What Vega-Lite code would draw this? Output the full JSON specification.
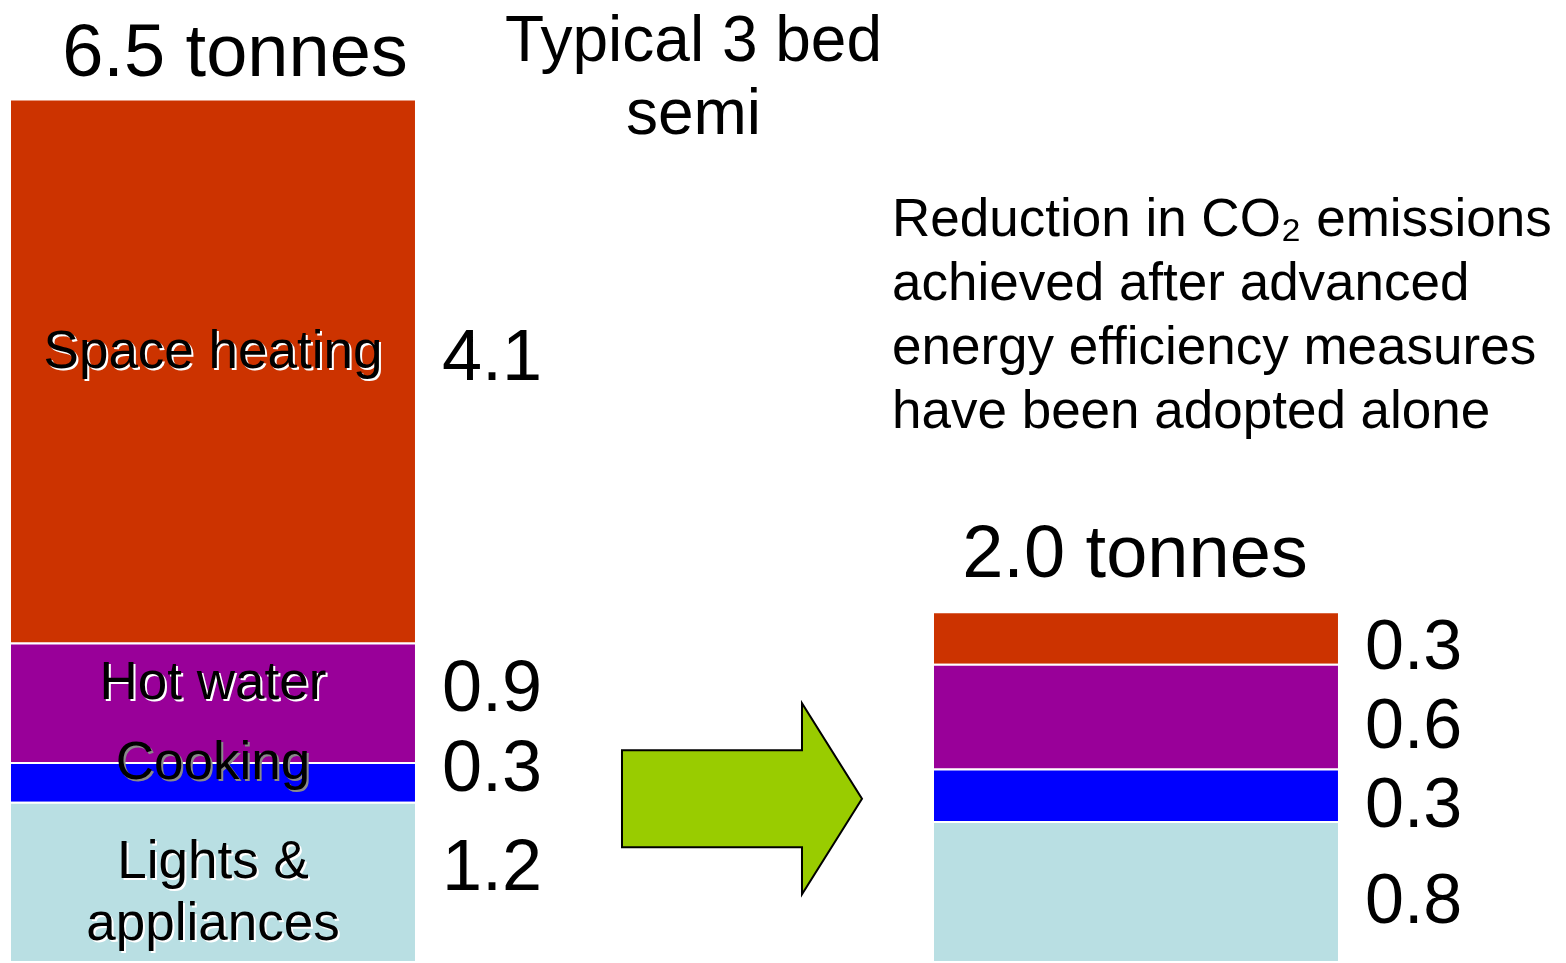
{
  "$schema": "https://vega.github.io/schema/vega-lite/v6.json",
  "width": 1566,
  "height": 963,
  "autosize": {"type": "fit", "contains": "padding"},
  "padding": 0,
  "background": "white",
  "config": {"view": {"stroke": null}, "font": "Liberation Sans"},
  "datasets": {
    "segments": [
      {"scenario": "Before", "use": "Space heating", "label": "Space heating", "tonnes": 4.1, "order": 4},
      {"scenario": "Before", "use": "Hot water", "label": "Hot water", "tonnes": 0.9, "order": 3},
      {"scenario": "Before", "use": "Cooking", "label": "Cooking", "tonnes": 0.3, "order": 2},
      {"scenario": "Before", "use": "Lights & appliances", "label": "Lights &\nappliances", "tonnes": 1.2, "order": 1},
      {"scenario": "After", "use": "Space heating", "label": "", "tonnes": 0.3, "order": 4},
      {"scenario": "After", "use": "Hot water", "label": "", "tonnes": 0.6, "order": 3},
      {"scenario": "After", "use": "Cooking", "label": "", "tonnes": 0.3, "order": 2},
      {"scenario": "After", "use": "Lights & appliances", "label": "", "tonnes": 0.8, "order": 1}
    ],
    "totals": [
      {"scenario": "Before", "tonnes": 6.5, "label": "6.5 tonnes"},
      {"scenario": "After", "tonnes": 2.0, "label": "2.0 tonnes"}
    ]
  },
  "resolve": {"scale": {"y": "independent"}},
  "layer": [
    {
      "data": {"name": "segments"},
      "transform": [{"filter": {"field": "scenario", "equal": "Before"}}],
      "mark": {"type": "bar", "stroke": "white", "strokeWidth": 2},
      "encoding": {
        "x": {"field": "scenario", "type": "nominal", "scale": {"domain": ["Before", "Arrow", "After"], "paddingInner": 0.1203, "paddingOuter": 0.2568, "align": 0.0422}, "axis": null},
        "y": {"field": "tonnes", "type": "quantitative", "stack": "zero", "scale": {"domain": [0, 7.25], "nice": false, "zero": true}, "axis": null},
        "color": {"field": "use", "type": "nominal", "scale": {"domain": ["Space heating", "Hot water", "Cooking", "Lights & appliances"], "range": ["#CC3300", "#990099", "#0000FF", "#B9DFE3"]}, "legend": null},
        "order": {"field": "order", "type": "quantitative"}
      }
    },
    {
      "data": {"name": "segments"},
      "transform": [{"filter": {"field": "scenario", "equal": "After"}}],
      "mark": {"type": "bar", "stroke": "white", "strokeWidth": 2},
      "encoding": {
        "x": {"field": "scenario", "type": "nominal", "scale": {"domain": ["Before", "Arrow", "After"], "paddingInner": 0.1203, "paddingOuter": 0.2568, "align": 0.0422}, "axis": null},
        "y": {"field": "tonnes", "type": "quantitative", "stack": "zero", "scale": {"domain": [0, 5.5], "nice": false, "zero": true}, "axis": null},
        "color": {"field": "use", "type": "nominal", "scale": {"domain": ["Space heating", "Hot water", "Cooking", "Lights & appliances"], "range": ["#CC3300", "#990099", "#0000FF", "#B9DFE3"]}, "legend": null},
        "order": {"field": "order", "type": "quantitative"}
      }
    },
    {
      "data": {"name": "segments"},
      "transform": [{"filter": {"field": "scenario", "equal": "Before"}}],
      "mark": {"type": "text", "align": "left", "baseline": "middle", "fontSize": 72, "dx": 26, "dy": -14, "color": "black"},
      "encoding": {
        "x": {"field": "scenario", "type": "nominal", "bandPosition": 1, "scale": {"domain": ["Before", "Arrow", "After"], "paddingInner": 0.1203, "paddingOuter": 0.2568, "align": 0.0422}, "axis": null},
        "y": {"field": "tonnes", "type": "quantitative", "stack": "zero", "bandPosition": 0.5, "scale": {"domain": [0, 7.25], "nice": false, "zero": true}, "axis": null},
        "detail": {"field": "use", "type": "nominal"},
        "order": {"field": "order", "type": "quantitative"},
        "text": {"field": "tonnes", "type": "quantitative", "format": ".1f"}
      }
    },
    {
      "data": {"name": "segments"},
      "transform": [{"filter": {"field": "scenario", "equal": "After"}}],
      "mark": {"type": "text", "align": "left", "baseline": "middle", "fontSize": 70, "dx": 26, "dy": 10, "color": "black"},
      "encoding": {
        "x": {"field": "scenario", "type": "nominal", "bandPosition": 1, "scale": {"domain": ["Before", "Arrow", "After"], "paddingInner": 0.1203, "paddingOuter": 0.2568, "align": 0.0422}, "axis": null},
        "y": {"field": "tonnes", "type": "quantitative", "stack": "zero", "bandPosition": 0.5, "scale": {"domain": [0, 5.5], "nice": false, "zero": true}, "axis": null},
        "detail": {"field": "use", "type": "nominal"},
        "order": {"field": "order", "type": "quantitative"},
        "text": {"field": "tonnes", "type": "quantitative", "format": ".1f"}
      }
    },
    {
      "data": {"name": "segments"},
      "transform": [{"filter": {"field": "scenario", "equal": "Before"}}],
      "mark": {"type": "text", "align": "center", "baseline": "middle", "fontSize": 53, "dx": 2, "dy": -18, "lineBreak": "\n", "lineHeight": 62},
      "encoding": {
        "x": {"field": "scenario", "type": "nominal", "scale": {"domain": ["Before", "Arrow", "After"], "paddingInner": 0.1203, "paddingOuter": 0.2568, "align": 0.0422}, "axis": null},
        "y": {"field": "tonnes", "type": "quantitative", "stack": "zero", "bandPosition": 0.5, "scale": {"domain": [0, 7.25], "nice": false, "zero": true}, "axis": null},
        "detail": {"field": "use", "type": "nominal"},
        "order": {"field": "order", "type": "quantitative"},
        "color": {"condition": {"test": "datum.use === 'Cooking'", "value": "#8a8a8a"}, "value": "white"},
        "text": {"field": "label", "type": "nominal"}
      }
    },
    {
      "data": {"name": "segments"},
      "transform": [{"filter": {"field": "scenario", "equal": "Before"}}],
      "mark": {"type": "text", "align": "center", "baseline": "middle", "fontSize": 53, "dy": -20, "color": "black", "lineBreak": "\n", "lineHeight": 62},
      "encoding": {
        "x": {"field": "scenario", "type": "nominal", "scale": {"domain": ["Before", "Arrow", "After"], "paddingInner": 0.1203, "paddingOuter": 0.2568, "align": 0.0422}, "axis": null},
        "y": {"field": "tonnes", "type": "quantitative", "stack": "zero", "bandPosition": 0.5, "scale": {"domain": [0, 7.25], "nice": false, "zero": true}, "axis": null},
        "detail": {"field": "use", "type": "nominal"},
        "order": {"field": "order", "type": "quantitative"},
        "text": {"field": "label", "type": "nominal"}
      }
    },
    {
      "data": {"name": "totals"},
      "transform": [{"filter": {"field": "scenario", "equal": "Before"}}],
      "mark": {"type": "text", "align": "center", "baseline": "alphabetic", "fontSize": 74, "dy": -24, "dx": 22, "color": "black"},
      "encoding": {
        "x": {"field": "scenario", "type": "nominal", "scale": {"domain": ["Before", "Arrow", "After"], "paddingInner": 0.1203, "paddingOuter": 0.2568, "align": 0.0422}, "axis": null},
        "y": {"field": "tonnes", "type": "quantitative", "scale": {"domain": [0, 7.25], "nice": false, "zero": true}, "axis": null},
        "text": {"field": "label", "type": "nominal"}
      }
    },
    {
      "data": {"name": "totals"},
      "transform": [{"filter": {"field": "scenario", "equal": "After"}}],
      "mark": {"type": "text", "align": "center", "baseline": "alphabetic", "fontSize": 74, "dy": -35, "dx": -1, "color": "black"},
      "encoding": {
        "x": {"field": "scenario", "type": "nominal", "scale": {"domain": ["Before", "Arrow", "After"], "paddingInner": 0.1203, "paddingOuter": 0.2568, "align": 0.0422}, "axis": null},
        "y": {"field": "tonnes", "type": "quantitative", "scale": {"domain": [0, 5.5], "nice": false, "zero": true}, "axis": null},
        "text": {"field": "label", "type": "nominal"}
      }
    },
    {
      "data": {"values": [{"scenario": "Arrow", "note": "Typical 3 bed\nsemi"}]},
      "mark": {"type": "text", "align": "center", "baseline": "top", "fontSize": 64, "dx": 19, "dy": 10, "color": "black", "lineBreak": "\n", "lineHeight": 73},
      "encoding": {
        "x": {"field": "scenario", "type": "nominal", "scale": {"domain": ["Before", "Arrow", "After"], "paddingInner": 0.1203, "paddingOuter": 0.2568, "align": 0.0422}, "axis": null},
        "y": {"datum": 7.25, "type": "quantitative", "scale": {"domain": [0, 7.25], "nice": false, "zero": true}, "axis": null},
        "text": {"field": "note", "type": "nominal"}
      }
    },
    {
      "data": {"values": [{"scenario": "After", "note": "Reduction in CO₂ emissions\nachieved after advanced\nenergy efficiency measures\nhave been adopted alone"}]},
      "mark": {"type": "text", "align": "left", "baseline": "alphabetic", "fontSize": 53, "dx": -41, "color": "black", "lineBreak": "\n", "lineHeight": 64},
      "encoding": {
        "x": {"field": "scenario", "type": "nominal", "bandPosition": 0, "scale": {"domain": ["Before", "Arrow", "After"], "paddingInner": 0.1203, "paddingOuter": 0.2568, "align": 0.0422}, "axis": null},
        "y": {"datum": 5.47, "type": "quantitative", "scale": {"domain": [0, 7.25], "nice": false, "zero": true}, "axis": null},
        "text": {"field": "note", "type": "nominal"}
      }
    },
    {
      "data": {"values": [{"scenario": "Arrow"}]},
      "mark": {"type": "point", "shape": "M-0.4375,-0.404L1.0625,-0.404L1.0625,-0.796L1.5625,0L1.0625,0.796L1.0625,0.404L-0.4375,0.404Z", "size": 57600, "filled": true, "fill": "#99CC00", "stroke": "black", "strokeWidth": 2, "opacity": 1},
      "encoding": {
        "x": {"field": "scenario", "type": "nominal", "scale": {"domain": ["Before", "Arrow", "After"], "paddingInner": 0.1203, "paddingOuter": 0.2568, "align": 0.0422}, "axis": null},
        "y": {"datum": 1.23, "type": "quantitative", "scale": {"domain": [0, 7.25], "nice": false, "zero": true}, "axis": null}
      }
    }
  ]
}
